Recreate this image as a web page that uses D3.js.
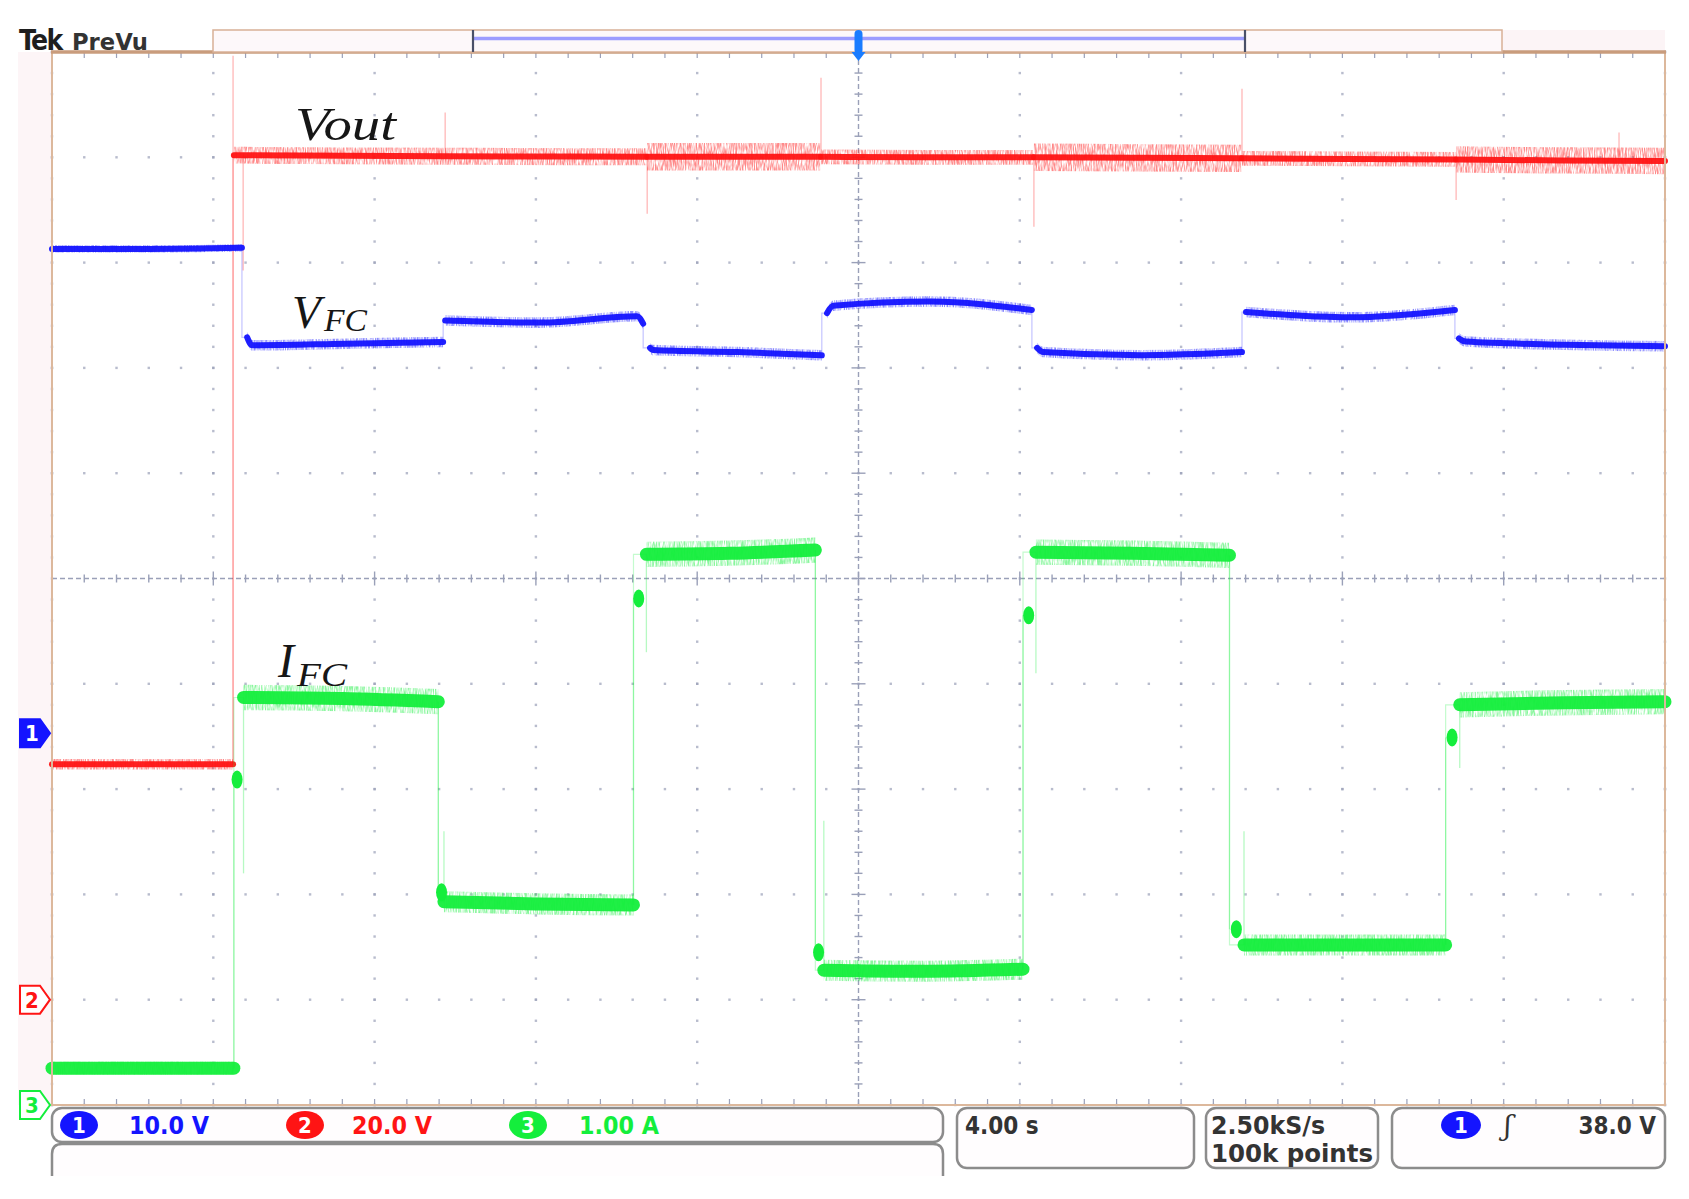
<!DOCTYPE html>
<html>
<head>
<meta charset="utf-8">
<script src="https://cdn.jsdelivr.net/npm/d3@7"></script>
<style>
body { margin: 0; background: #fff; }
svg { display: block; }
.cond { font-family: 'DejaVu Sans Condensed', 'Liberation Sans Narrow', sans-serif; }
.math { font-family: 'Liberation Serif', 'DejaVu Serif', serif; font-style: italic; fill: #161616; }
</style>
</head>
<body>
<svg id="scope"></svg>
<script>
// ---- scope settings ----
const timeRange = [0, 40];            // 4.00 s/div x 10 div
const divsX = 10, divsY = 10;
const channelIds = ['1', '2', '3'];
const channelPerDiv = [10, 20, 1];    // V, V, A per div
const channelPos = [-1.47, -4.0, -5.0]; // ground marker, div from centre
const channelColor = ['#1414ff', '#ff1414', '#14ee3c'];
const channelLabel = ['10.0 V', '20.0 V', '1.00 A'];
const timebaseLabel = '4.00 s';
const sampleLabels = ['2.50kS/s', '100k points'];
const triggerLabel = '38.0 V';

// ---- Vout (ch2, V): [t s, value] readings per flat segment ----
const voutSegments = [
  [[0, 44.7], [4.49, 44.7]],
  [[4.51, 160.4], [9.7, 160.2], [14.74, 160.1]],
  [[14.76, 160.1], [17.0, 160.1], [19.05, 160.1]],
  [[19.07, 160.1], [21.7, 160.0], [24.33, 160.0]],
  [[24.35, 160.0], [27.0, 159.9], [29.49, 159.8]],
  [[29.51, 159.8], [32.1, 159.7], [34.8, 159.6]],
  [[34.82, 159.6], [37.4, 159.4], [40, 159.3]]
];
const voutNoise = [1.0, 1.6, 2.6, 1.4, 2.6, 1.4, 2.5];   // half band, V
// transient spikes: [t, top, bottom]
const voutSpikes = [
  [4.49, 179.3, 44.7], [4.74, 160.3, 138.5], [9.75, 168.5, 160.0],
  [14.76, 160.0, 149.3], [19.07, 175.1, 160.0], [24.35, 160.0, 146.8],
  [29.51, 173.0, 160.0], [34.82, 160.0, 151.9], [38.86, 164.7, 160.0]
];

// ---- VFC (ch1, V) ----
const vfcSegments = [
  [[0, 46.0], [2.4, 46.0], [4.71, 46.1]],
  [[4.84, 37.6], [4.96, 36.85], [7.3, 37.0], [9.70, 37.16]],
  [[9.75, 39.2], [12.1, 39.0], [14.51, 39.6], [14.66, 38.9]],
  [[14.83, 36.6], [14.9, 36.4], [17.0, 36.2], [19.09, 35.9]],
  [[19.22, 39.9], [19.37, 40.6], [21.8, 41.0], [24.3, 40.2]],
  [[24.43, 36.6], [24.58, 36.2], [27.0, 35.9], [29.51, 36.2]],
  [[29.61, 40.0], [32.2, 39.5], [34.79, 40.2]],
  [[34.89, 37.5], [35.06, 37.2], [37.5, 36.9], [40, 36.75]]
];
const vfcNoise = [0.35, 0.5, 0.5, 0.5, 0.5, 0.5, 0.5, 0.5];

// ---- IFC (ch3, A) ----
const ifcSegments = [
  [[0, 0.35], [4.51, 0.35]],
  [[4.75, 3.87], [7.2, 3.86], [9.58, 3.83]],
  [[9.72, 1.93], [12.0, 1.91], [14.42, 1.90]],
  [[14.74, 5.23], [16.8, 5.24], [18.93, 5.27]],
  [[19.14, 1.28], [21.6, 1.27], [24.08, 1.29]],
  [[24.4, 5.25], [26.8, 5.24], [29.2, 5.22]],
  [[29.56, 1.52], [32.0, 1.52], [34.56, 1.52]],
  [[34.91, 3.80], [37.5, 3.82], [40, 3.83]]
];
const ifcNoise = [0.06, 0.12, 0.1, 0.12, 0.1, 0.12, 0.1, 0.12];
const ifcDots = [[4.59, 3.09], [9.66, 2.02], [14.55, 4.81], [19.01, 1.45],
                 [24.22, 4.65], [29.37, 1.67], [34.72, 3.49]];
const ifcOvershoot = [2.2, 2.6, 4.3, 2.7, 4.1, 2.6, 3.2];

// ---- layout ----
const W = 1689, H = 1199;
const plot = { left: 52, right: 1665, top: 52, bottom: 1105 };
const grid = '#9aa0b8';

const svg = d3.select('#scope').attr('width', W).attr('height', H);
const defs = svg.append('defs');
const grain = defs.append('filter').attr('id', 'grain')
  .attr('x', '-5%').attr('y', '-50%').attr('width', '110%').attr('height', '200%');
grain.append('feTurbulence').attr('type', 'fractalNoise')
  .attr('baseFrequency', '0.9 0.12').attr('numOctaves', 2).attr('seed', 4).attr('result', 'n');
grain.append('feColorMatrix').attr('in', 'n').attr('type', 'matrix')
  .attr('values', '0 0 0 0 0  0 0 0 0 0  0 0 0 0 0  2.4 0 0 0 -0.7').attr('result', 'a');
grain.append('feComposite').attr('in', 'SourceGraphic').attr('in2', 'a').attr('operator', 'in');

const x = d3.scaleLinear().domain(timeRange).range([plot.left, plot.right]);
const yDiv = d3.scaleLinear().domain([-divsY / 2, divsY / 2]).range([plot.bottom, plot.top]);
const chY = channelPerDiv.map((vd, i) => d3.scaleLinear()
  .domain([(-divsY / 2 - channelPos[i]) * vd, (divsY / 2 - channelPos[i]) * vd])
  .range([plot.bottom, plot.top]));

// left pink strip + header strip
svg.append('rect').attr('x', 18).attr('y', plot.top).attr('width', plot.left - 18)
  .attr('height', plot.bottom - plot.top).attr('fill', '#fdf5f7');
svg.append('rect').attr('x', 1502).attr('y', 30).attr('width', plot.right - 1502)
  .attr('height', 22).attr('fill', '#fcf4f6');

// ---- graticule ----
const gGrid = svg.append('g');
const xMinor = d3.range(0, divsX * 5 + 1).map(i => plot.left + i * (plot.right - plot.left) / (divsX * 5));
const yMinor = d3.range(0, divsY * 5 + 1).map(i => plot.top + i * (plot.bottom - plot.top) / (divsY * 5));
const xMajor = xMinor.filter((d, i) => i % 5 === 0);
const yMajor = yMinor.filter((d, i) => i % 5 === 0);
const dots = [];
xMajor.forEach((gx, i) => { if (i !== 5) yMinor.forEach(gy => dots.push([gx, gy])); });
yMajor.forEach((gy, j) => { if (j !== 5) xMinor.forEach(gx => dots.push([gx, gy])); });
gGrid.selectAll('rect.dot').data(dots).join('rect').attr('class', 'dot')
  .attr('x', d => d[0] - 1.2).attr('y', d => d[1] - 1.2).attr('width', 2.4).attr('height', 2.4)
  .attr('fill', grid).attr('opacity', 0.7);

const cx = x((timeRange[0] + timeRange[1]) / 2), cy = yDiv(0);
gGrid.append('line').attr('x1', plot.left).attr('x2', plot.right).attr('y1', cy).attr('y2', cy)
  .attr('stroke', grid).attr('stroke-width', 1.4).attr('stroke-dasharray', '5,3');
gGrid.append('line').attr('y1', plot.top).attr('y2', plot.bottom).attr('x1', cx).attr('x2', cx)
  .attr('stroke', grid).attr('stroke-width', 1.4).attr('stroke-dasharray', '5,3');
gGrid.selectAll('line.tx').data(xMinor).join('line').attr('class', 'tx')
  .attr('x1', d => d).attr('x2', d => d)
  .attr('y1', (d, i) => cy - (i % 5 === 0 ? 7 : 4)).attr('y2', (d, i) => cy + (i % 5 === 0 ? 7 : 4))
  .attr('stroke', grid).attr('stroke-width', 1.4);
gGrid.selectAll('line.ty').data(yMinor).join('line').attr('class', 'ty')
  .attr('y1', d => d).attr('y2', d => d)
  .attr('x1', (d, i) => cx - (i % 5 === 0 ? 7 : 4)).attr('x2', (d, i) => cx + (i % 5 === 0 ? 7 : 4))
  .attr('stroke', grid).attr('stroke-width', 1.4);
// border ticks
gGrid.selectAll('line.bt').data(xMinor).join('line').attr('class', 'bt')
  .attr('x1', d => d).attr('x2', d => d).attr('y1', plot.top).attr('y2', plot.top + 6)
  .attr('stroke', grid).attr('stroke-width', 1.2);
gGrid.selectAll('line.bb').data(xMinor).join('line').attr('class', 'bb')
  .attr('x1', d => d).attr('x2', d => d).attr('y1', plot.bottom - 6).attr('y2', plot.bottom)
  .attr('stroke', grid).attr('stroke-width', 1.2);

// ---- traces ----
const tr = svg.append('g');
function drawTrace(segments, noise, yS, color, core) {
  const g = tr.append('g');
  const area = d3.area().x(d => x(d[0])).curve(d3.curveMonotoneX);
  const line = d3.line().x(d => x(d[0])).y(d => yS(d[1])).curve(d3.curveMonotoneX);
  segments.forEach((seg, i) => {
    g.append('path').datum(seg)
      .attr('d', area.y0(d => yS(d[1] - noise[i])).y1(d => yS(d[1] + noise[i])))
      .attr('fill', color).attr('opacity', 0.5).attr('filter', 'url(#grain)');
    g.append('path').datum(seg).attr('d', line)
      .attr('fill', 'none').attr('stroke', color).attr('stroke-width', core)
      .attr('stroke-linecap', 'round').attr('opacity', 0.95);
  });
  // faint edges between segments
  d3.pairs(segments).forEach(([a, b]) => {
    const p = a[a.length - 1], q = b[0];
    g.append('path').attr('d', `M${x(p[0])},${yS(p[1])}V${yS(q[1])}H${x(q[0])}`)
      .attr('fill', 'none').attr('stroke', color).attr('stroke-width', 1.2).attr('opacity', 0.25);
  });
  return g;
}

// Vout (ch2)
const gv = drawTrace(voutSegments, voutNoise, chY[1], channelColor[1], 6);
gv.selectAll('line.spike').data(voutSpikes).join('line').attr('class', 'spike')
  .attr('x1', d => x(d[0])).attr('x2', d => x(d[0]))
  .attr('y1', d => chY[1](d[1])).attr('y2', d => chY[1](d[2]))
  .attr('stroke', channelColor[1]).attr('stroke-width', 1.3).attr('opacity', 0.3);

// VFC (ch1)
drawTrace(vfcSegments, vfcNoise, chY[0], channelColor[0], 6);

// IFC (ch3)
const gi = drawTrace(ifcSegments, ifcNoise, chY[2], channelColor[2], 13);
ifcDots.forEach((d, k) => {
  const prev = ifcSegments[k][ifcSegments[k].length - 1];
  const next = ifcSegments[k + 1][0];
  gi.append('line').attr('x1', x(prev[0])).attr('x2', x(prev[0]))
    .attr('y1', chY[2](prev[1])).attr('y2', chY[2](d[1]))
    .attr('stroke', channelColor[2]).attr('stroke-width', 1.3).attr('opacity', 0.3);
  gi.append('line').attr('x1', x(next[0])).attr('x2', x(next[0]))
    .attr('y1', chY[2](next[1])).attr('y2', chY[2](ifcOvershoot[k]))
    .attr('stroke', channelColor[2]).attr('stroke-width', 1.3).attr('opacity', 0.3);
  gi.append('ellipse').attr('cx', x(d[0])).attr('cy', chY[2](d[1]))
    .attr('rx', 5.5).attr('ry', 9).attr('fill', channelColor[2]);
});

// ---- trace names ----
svg.append('text').attr('class', 'math').attr('x', 295).attr('y', 140)
  .attr('font-size', 47).attr('textLength', 101).attr('lengthAdjust', 'spacingAndGlyphs').text('Vout');
svg.append('text').attr('class', 'math').attr('x', 292).attr('y', 328)
  .attr('font-size', 47).text('V');
svg.append('text').attr('class', 'math').attr('x', 324).attr('y', 331)
  .attr('font-size', 31).attr('textLength', 43).attr('lengthAdjust', 'spacingAndGlyphs').text('FC');
svg.append('text').attr('class', 'math').attr('x', 278).attr('y', 677)
  .attr('font-size', 48).text('I');
svg.append('text').attr('class', 'math').attr('x', 297).attr('y', 686)
  .attr('font-size', 34).attr('textLength', 50).attr('lengthAdjust', 'spacingAndGlyphs').text('FC');

// ---- frame ----
svg.append('rect').attr('x', plot.left).attr('y', plot.top)
  .attr('width', plot.right - plot.left).attr('height', plot.bottom - plot.top)
  .attr('fill', 'none').attr('stroke', '#dcb89c').attr('stroke-width', 2);
svg.append('line').attr('x1', plot.left - 1).attr('x2', plot.right + 1)
  .attr('y1', plot.top).attr('y2', plot.top).attr('stroke', '#c99c7c').attr('stroke-width', 3.5);

// ---- header ----
svg.append('text').attr('class', 'cond').attr('x', 19).attr('y', 50)
  .attr('font-size', 28).attr('font-weight', 'bold').attr('fill', '#1e1e1e')
  .attr('letter-spacing', -1.5).text('Tek');
svg.append('text').attr('class', 'cond').attr('x', 72).attr('y', 50)
  .attr('font-size', 23).attr('font-weight', 'bold').attr('fill', '#333')
  .attr('textLength', 76).attr('lengthAdjust', 'spacingAndGlyphs').text('PreVu');
svg.append('rect').attr('x', 213).attr('y', 30).attr('width', 1289).attr('height', 22)
  .attr('fill', '#fdf8fa').attr('stroke', '#d8b096').attr('stroke-width', 1.5);
svg.append('line').attr('x1', 473).attr('x2', 1245).attr('y1', 38.5).attr('y2', 38.5)
  .attr('stroke', '#9c9cff').attr('stroke-width', 3.5);
[473, 1245].forEach(px => svg.append('line').attr('x1', px).attr('x2', px)
  .attr('y1', 30).attr('y2', 52).attr('stroke', '#4a5068').attr('stroke-width', 2.2));
svg.append('rect').attr('x', cx - 4).attr('y', 30).attr('width', 8).attr('height', 24)
  .attr('rx', 4).attr('fill', '#1a7cff');
svg.append('path').attr('d', `M${cx - 7},52 L${cx + 7},52 L${cx},61 Z`).attr('fill', '#1a7cff');

// ---- channel ground markers ----
channelIds.forEach((id, i) => {
  const my = chY[i](0);
  const filled = i === 0;
  svg.append('path').attr('d', `M20,${my - 14} H40 L50,${my} L40,${my + 14} H20 Z`)
    .attr('fill', filled ? channelColor[i] : '#fff')
    .attr('stroke', channelColor[i]).attr('stroke-width', 2);
  svg.append('text').attr('class', 'cond').attr('x', 32).attr('y', my + 8)
    .attr('text-anchor', 'middle').attr('font-size', 22).attr('font-weight', 'bold')
    .attr('fill', filled ? '#fff' : channelColor[i]).text(id);
});

// ---- status bar ----
const boxStroke = '#8c8c8c';
function box(bx, by, bw, bh) {
  svg.append('rect').attr('x', bx).attr('y', by).attr('width', bw).attr('height', bh)
    .attr('rx', 10).attr('fill', '#fffdfe').attr('stroke', boxStroke).attr('stroke-width', 2.5);
}
box(52, 1108, 891, 34);
svg.append('path').attr('d', 'M52,1178 V1154 Q52,1144 62,1144 H933 Q943,1144 943,1154 V1178')
  .attr('fill', '#fffdfe').attr('stroke', boxStroke).attr('stroke-width', 2.5);
svg.append('rect').attr('x', 0).attr('y', 1176).attr('width', W).attr('height', H - 1176).attr('fill', '#fff');
box(957, 1108, 237, 60);
box(1206, 1108, 172, 60);
box(1392, 1108, 273, 60);

const badgeX = [79, 305, 528], labelX = [129, 352, 579];
channelIds.forEach((id, i) => {
  svg.append('ellipse').attr('cx', badgeX[i]).attr('cy', 1125).attr('rx', 19).attr('ry', 14)
    .attr('fill', channelColor[i]);
  svg.append('text').attr('class', 'cond').attr('x', badgeX[i]).attr('y', 1133)
    .attr('text-anchor', 'middle').attr('font-size', 22).attr('font-weight', 'bold')
    .attr('fill', '#fff').text(id);
  svg.append('text').attr('class', 'cond').attr('x', labelX[i]).attr('y', 1134)
    .attr('font-size', 24).attr('font-weight', 'bold').attr('fill', channelColor[i])
    .attr('textLength', 80).attr('lengthAdjust', 'spacingAndGlyphs').text(channelLabel[i]);
});
svg.append('text').attr('class', 'cond').attr('x', 965).attr('y', 1134)
  .attr('font-size', 24).attr('font-weight', 'bold').attr('fill', '#333').text(timebaseLabel);
sampleLabels.forEach((s, i) => svg.append('text').attr('class', 'cond')
  .attr('x', 1211).attr('y', 1134 + i * 28).attr('font-size', 24).attr('font-weight', 'bold')
  .attr('fill', '#333').attr('textLength', i ? 162 : 114)
  .attr('lengthAdjust', 'spacingAndGlyphs').text(s));
svg.append('ellipse').attr('cx', 1461).attr('cy', 1125).attr('rx', 20).attr('ry', 14)
  .attr('fill', channelColor[0]);
svg.append('text').attr('class', 'cond').attr('x', 1461).attr('y', 1133)
  .attr('text-anchor', 'middle').attr('font-size', 22).attr('font-weight', 'bold')
  .attr('fill', '#fff').text(channelIds[0]);
svg.append('text').attr('x', 1504).attr('y', 1135).attr('font-size', 28)
  .attr('font-family', 'DejaVu Serif, serif').attr('font-style', 'italic').attr('fill', '#333').text('ʃ');
svg.append('text').attr('class', 'cond').attr('x', 1656).attr('y', 1134)
  .attr('text-anchor', 'end').attr('font-size', 24).attr('font-weight', 'bold')
  .attr('fill', '#333').text(triggerLabel);
</script>
</body>
</html>
